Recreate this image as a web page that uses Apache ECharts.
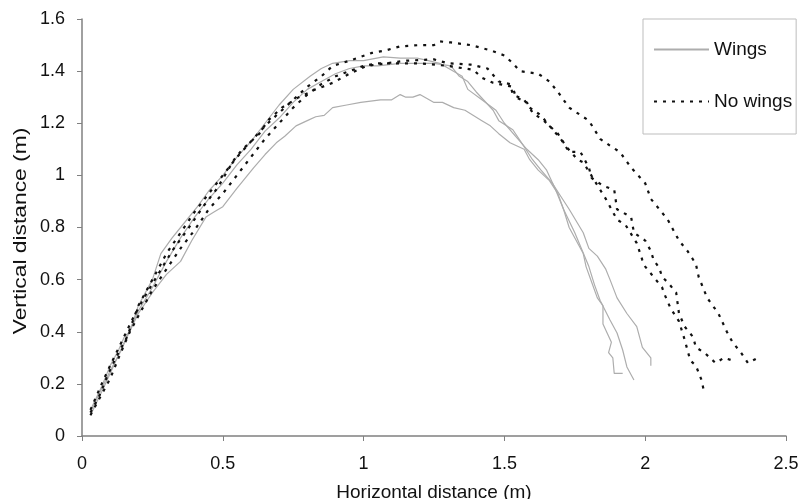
<!DOCTYPE html>
<html>
<head>
<meta charset="utf-8">
<script src="https://cdn.jsdelivr.net/npm/echarts@6/dist/echarts.min.js"></script>
<style>
html,body{margin:0;padding:0;background:#fff;}
#chart{width:801px;height:499px;}
</style>
</head>
<body>
<div id="chart"></div>
<script>
// Axis ticks
const xTicks = [0, 0.5, 1, 1.5, 2, 2.5];
const yTicks = [0, 0.2, 0.4, 0.6, 0.8, 1, 1.2, 1.4, 1.6];
const legendNames = ['Wings', 'No wings'];
const xTitle = 'Horizontal distance (m)';
const yTitle = 'Vertical distance (m)';

// Wings trajectories [horizontal m, vertical m]
const wings1 = [[0.03,0.09],[0.06,0.16],[0.1,0.25],[0.14,0.33],[0.16,0.38],[0.2,0.47],[0.25,0.55],[0.3,0.62],[0.35,0.67],[0.39,0.75],[0.44,0.84],[0.47,0.86],[0.5,0.88],[0.55,0.95],[0.61,1.03],[0.65,1.08],[0.69,1.125],[0.72,1.15],[0.76,1.19],[0.8,1.21],[0.83,1.225],[0.86,1.23],[0.89,1.26],[0.94,1.27],[0.99,1.28],[1.06,1.29],[1.1,1.29],[1.13,1.31],[1.15,1.30],[1.175,1.30],[1.2,1.31],[1.25,1.28],[1.28,1.28],[1.32,1.26],[1.36,1.25],[1.39,1.23],[1.42,1.21],[1.45,1.19],[1.48,1.16],[1.52,1.125],[1.57,1.10],[1.59,1.06],[1.62,1.02],[1.66,0.98],[1.69,0.93],[1.71,0.87],[1.73,0.80],[1.78,0.70],[1.79,0.65],[1.81,0.59],[1.83,0.53],[1.85,0.50],[1.85,0.43],[1.88,0.36],[1.87,0.32],[1.885,0.30],[1.89,0.24],[1.92,0.24]];
const wings2 = [[0.03,0.1],[0.07,0.19],[0.1,0.27],[0.13,0.33],[0.15,0.38],[0.17,0.40],[0.2,0.5],[0.25,0.6],[0.28,0.70],[0.32,0.76],[0.35,0.80],[0.41,0.88],[0.45,0.94],[0.5,1.0],[0.55,1.07],[0.6,1.13],[0.65,1.2],[0.7,1.27],[0.75,1.33],[0.81,1.38],[0.85,1.41],[0.89,1.43],[0.95,1.44],[1.0,1.44],[1.07,1.455],[1.13,1.45],[1.19,1.45],[1.23,1.44],[1.27,1.43],[1.31,1.405],[1.35,1.38],[1.37,1.33],[1.42,1.29],[1.47,1.25],[1.50,1.20],[1.54,1.15],[1.58,1.10],[1.62,1.06],[1.65,1.02],[1.68,0.95],[1.71,0.87],[1.75,0.78],[1.80,0.65],[1.82,0.58],[1.84,0.52],[1.875,0.445],[1.90,0.395],[1.92,0.33],[1.935,0.265],[1.96,0.215]];
const wings3 = [[0.03,0.08],[0.07,0.17],[0.1,0.24],[0.15,0.36],[0.2,0.48],[0.25,0.57],[0.3,0.67],[0.35,0.76],[0.4,0.84],[0.45,0.91],[0.5,0.97],[0.55,1.04],[0.6,1.1],[0.65,1.17],[0.7,1.22],[0.75,1.28],[0.8,1.33],[0.85,1.36],[0.9,1.39],[0.95,1.41],[1.0,1.42],[1.05,1.42],[1.13,1.43],[1.2,1.43],[1.25,1.43],[1.31,1.42],[1.34,1.38],[1.37,1.36],[1.40,1.32],[1.46,1.25],[1.48,1.21],[1.53,1.175],[1.57,1.11],[1.60,1.06],[1.63,1.02],[1.67,0.97],[1.70,0.92],[1.73,0.87],[1.78,0.78],[1.80,0.72],[1.83,0.69],[1.86,0.64],[1.875,0.60],[1.90,0.53],[1.935,0.47],[1.97,0.42],[1.99,0.34],[2.02,0.30],[2.02,0.27]];

// No-wings trajectories
const noWings1 = [[0.03,0.09],[0.06,0.15],[0.09,0.23],[0.12,0.3],[0.16,0.38],[0.2,0.5],[0.25,0.6],[0.3,0.7],[0.35,0.78],[0.4,0.86],[0.45,0.93],[0.5,1.0],[0.55,1.07],[0.6,1.13],[0.65,1.19],[0.7,1.24],[0.75,1.29],[0.8,1.34],[0.85,1.38],[0.89,1.42],[0.95,1.44],[1.03,1.47],[1.08,1.48],[1.13,1.495],[1.2,1.50],[1.25,1.50],[1.27,1.514],[1.31,1.51],[1.38,1.50],[1.45,1.48],[1.5,1.46],[1.53,1.43],[1.555,1.40],[1.62,1.39],[1.66,1.36],[1.69,1.32],[1.73,1.26],[1.80,1.21],[1.84,1.14],[1.88,1.11],[1.91,1.09],[1.95,1.03],[2.0,0.97],[2.02,0.91],[2.05,0.87],[2.08,0.83],[2.12,0.75],[2.15,0.71],[2.18,0.66],[2.19,0.61],[2.22,0.53],[2.26,0.47],[2.29,0.40],[2.31,0.36],[2.34,0.32],[2.365,0.28],[2.40,0.30]];
const noWings2 = [[0.03,0.1],[0.07,0.2],[0.1,0.27],[0.14,0.36],[0.18,0.45],[0.22,0.53],[0.27,0.62],[0.32,0.71],[0.38,0.8],[0.43,0.88],[0.48,0.95],[0.54,1.06],[0.57,1.10],[0.63,1.16],[0.66,1.21],[0.71,1.26],[0.77,1.30],[0.83,1.33],[0.89,1.355],[0.95,1.39],[1.01,1.42],[1.08,1.43],[1.15,1.44],[1.25,1.445],[1.30,1.43],[1.38,1.425],[1.44,1.41],[1.46,1.385],[1.48,1.36],[1.52,1.35],[1.53,1.31],[1.57,1.29],[1.59,1.26],[1.63,1.23],[1.66,1.19],[1.70,1.14],[1.73,1.09],[1.77,1.09],[1.80,1.03],[1.81,0.99],[1.85,0.96],[1.89,0.945],[1.90,0.87],[1.95,0.84],[1.96,0.78],[2.0,0.75],[2.02,0.71],[2.03,0.675],[2.05,0.645],[2.06,0.61],[2.08,0.59],[2.11,0.55],[2.12,0.47],[2.14,0.42],[2.17,0.38],[2.18,0.34],[2.21,0.32],[2.25,0.28],[2.28,0.30],[2.31,0.29]];
const noWings3 = [[0.03,0.08],[0.06,0.14],[0.1,0.22],[0.13,0.3],[0.17,0.4],[0.21,0.48],[0.25,0.56],[0.3,0.64],[0.35,0.72],[0.4,0.79],[0.45,0.87],[0.5,0.93],[0.55,1.0],[0.6,1.07],[0.65,1.14],[0.7,1.2],[0.75,1.26],[0.8,1.31],[0.85,1.35],[0.9,1.38],[0.95,1.40],[1.0,1.42],[1.05,1.43],[1.1,1.43],[1.2,1.43],[1.3,1.42],[1.39,1.405],[1.42,1.375],[1.46,1.355],[1.53,1.34],[1.54,1.30],[1.58,1.28],[1.60,1.24],[1.64,1.21],[1.69,1.16],[1.72,1.11],[1.76,1.06],[1.78,1.05],[1.82,0.98],[1.86,0.91],[1.90,0.83],[1.93,0.81],[1.97,0.74],[1.99,0.675],[2.0,0.65],[2.03,0.61],[2.06,0.57],[2.07,0.54],[2.09,0.49],[2.12,0.44],[2.14,0.37],[2.16,0.29],[2.18,0.27],[2.20,0.215],[2.21,0.165]];

const FONT = 'Liberation Sans, Arial, sans-serif';
const wingsStyle = { color: '#adadad', width: 1.2, type: 'solid' };
const noWingsStyle = { color: '#111111', width: 2.2, type: [3, 6] };

function mk(name, data, ls, z) {
  return {
    type: 'line', name: name, data: data, showSymbol: false, symbol: 'none',
    lineStyle: ls, itemStyle: { color: ls.color }, z: z, silent: true
  };
}

const chart = echarts.init(document.getElementById('chart'), null, { renderer: 'canvas' });
chart.setOption({
  animation: false,
  backgroundColor: '#ffffff',
  grid: { left: 82, right: 15, top: 19, bottom: 63, outerBoundsMode: 'none', containLabel: false },
  legend: {
    data: legendNames,
    orient: 'vertical',
    left: 643, top: 19,
    padding: [21, 4, 23, 10],
    itemWidth: 55, itemHeight: 14, itemGap: 33,
    borderColor: '#bdbdbd', borderWidth: 1,
    backgroundColor: '#fff',
    itemStyle: { opacity: 0 },
    textStyle: { fontFamily: FONT, fontSize: 19, color: '#111' }
  },
  graphic: [{
    type: 'text', x: 21, y: 231, rotation: Math.PI / 2, scaleX: 1.2, silent: true,
    style: { text: yTitle, font: '19px ' + FONT, fill: '#111', align: 'center', verticalAlign: 'middle' }
  }],
  xAxis: {
    type: 'value', min: xTicks[0], max: xTicks[xTicks.length - 1], interval: 0.5,
    name: xTitle, nameLocation: 'middle', nameGap: 47,
    nameTextStyle: { fontFamily: FONT, fontSize: 19, color: '#111' },
    axisLine: { show: true, lineStyle: { color: '#808080', width: 1.5 } },
    axisTick: { show: true, inside: false, length: 5, lineStyle: { color: '#808080' } },
    axisLabel: { fontFamily: FONT, fontSize: 18, color: '#111', margin: 19 },
    splitLine: { show: false }
  },
  yAxis: {
    type: 'value', min: yTicks[0], max: yTicks[yTicks.length - 1], interval: 0.2,
    axisLine: { show: true, lineStyle: { color: '#808080', width: 1.5 } },
    axisTick: { show: true, inside: false, length: 5, lineStyle: { color: '#808080' } },
    axisLabel: { fontFamily: FONT, fontSize: 18, color: '#111', margin: 17 },
    splitLine: { show: false }
  },
  series: [
    mk('Wings', wings1, wingsStyle, 2),
    mk('Wings', wings2, wingsStyle, 2),
    mk('Wings', wings3, wingsStyle, 2),
    mk('No wings', noWings1, noWingsStyle, 3),
    mk('No wings', noWings2, noWingsStyle, 3),
    mk('No wings', noWings3, noWingsStyle, 3)
  ]
});
</script>
</body>
</html>
